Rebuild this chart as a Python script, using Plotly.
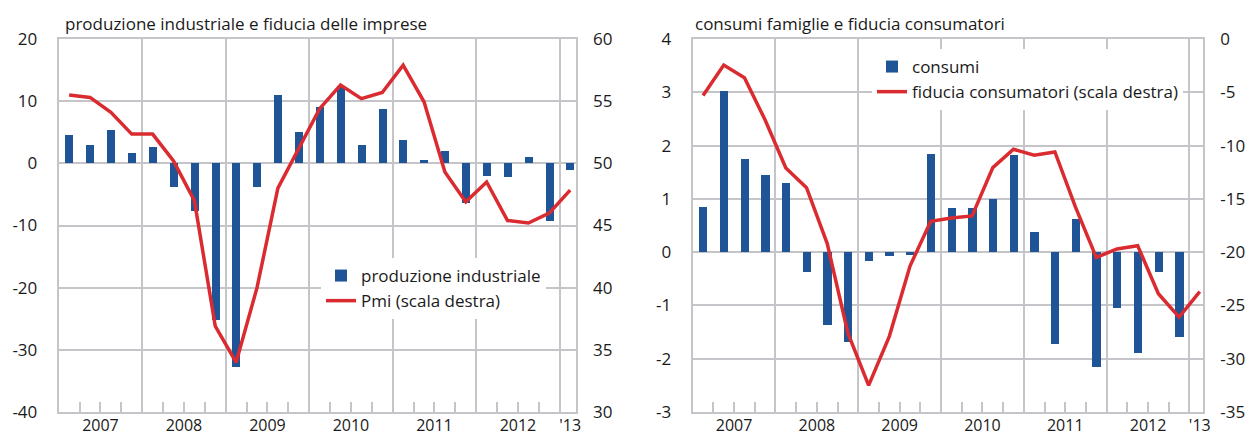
import plotly.graph_objects as go

# ---------------- data ----------------
quarters = [f"{y} T{q}" for y in range(2007, 2013) for q in range(1, 5)] + ["2013 T1"]
year_labels = ["2007", "2008", "2009", "2010", "2011", "2012", "'13"]

prod_ind = [4.6, 2.9, 5.4, 1.6, 2.6, -3.8, -7.7, -25.2, -32.8, -3.8, 11.0, 5.0,
            9.0, 12.5, 2.9, 8.8, 3.8, 0.5, 2.0, -6.4, -2.1, -2.2, 1.0, -9.2, -1.1]
pmi = [55.5, 55.3, 54.1, 52.35, 52.35, 50.2, 47.0, 36.9, 34.0, 40.0, 48.0, 51.2,
       54.4, 56.3, 55.2, 55.7, 57.9, 54.95, 49.3, 46.9, 48.5, 45.4, 45.2, 46.0, 47.85]

consumi = [0.85, 3.03, 1.75, 1.44, 1.29, -0.37, -1.37, -1.69, -0.165, -0.065, -0.06, 1.84,
           0.82, 0.82, 0.99, 1.83, 0.385, -1.73, 0.62, -2.15, -1.05, -1.89, -0.37, -1.59, None]
fiducia = [-5.3, -2.44, -3.63, -7.6, -12.1, -13.95, -19.2, -27.6, -32.5, -27.9, -21.3, -17.1,
           -16.8, -16.6, -12.07, -10.35, -10.9, -10.6, -15.8, -20.5, -19.7, -19.4, -23.9, -26.1, -23.7]

left_ticks = [-40, -30, -20, -10, 0, 10, 20]
left_ticks_r = [30, 35, 40, 45, 50, 55, 60]
right_ticks = [-3, -2, -1, 0, 1, 2, 3, 4]
right_ticks_r = [-35, -30, -25, -20, -15, -10, -5, 0]

# ---------------- style ----------------
W, H = 1254, 439
BLUE = "#1f5597"
RED = "#da2c30"
GRID = "#c4c4c9"
TXT = "#1a1a1a"
FONT = "Open Sans"

x = list(range(len(quarters)))
n_years = len(year_labels)
year_bounds = [4 * k - 0.5 for k in range(1, n_years)]
quarter_bounds = [i + 0.5 for i in range(len(quarters) - 1) if (i + 1) % 4 != 0]
year_centers = [4 * k + 1.5 for k in range(n_years - 1)] + [len(quarters) - 1]


def fx(p):
    return p / W


def fy(p):
    return 1 - p / H


ydom = [fy(412), fy(39)]

fig = go.Figure()
fig.add_trace(go.Bar(x=x, y=prod_ind, width=0.38, marker_color=BLUE, marker_line_width=0,
                     name="produzione industriale", xaxis="x", yaxis="y", legend="legend"))
fig.add_trace(go.Scatter(x=x, y=pmi, mode="lines", line=dict(color=RED, width=3.5),
                         name="Pmi (scala destra)", xaxis="x", yaxis="y2", legend="legend"))
fig.add_trace(go.Bar(x=x, y=consumi, width=0.4, marker_color=BLUE, marker_line_width=0,
                     name="consumi", xaxis="x2", yaxis="y3", legend="legend2"))
fig.add_trace(go.Scatter(x=x, y=fiducia, mode="lines", line=dict(color=RED, width=3.5),
                         name="fiducia consumatori (scala destra)", xaxis="x2", yaxis="y4",
                         legend="legend2"))
# invisible carriers so the year-label axes are drawn
fig.add_trace(go.Scatter(x=year_centers, y=[None] * n_years, mode="markers", xaxis="x3", yaxis="y",
                         showlegend=False, hoverinfo="skip"))
fig.add_trace(go.Scatter(x=year_centers, y=[None] * n_years, mode="markers", xaxis="x4", yaxis="y3",
                         showlegend=False, hoverinfo="skip"))

tickfont = dict(family=FONT, size=17, color=TXT)


def xmain(dom, rng, anchor):
    return dict(domain=dom, range=rng, anchor=anchor, tickvals=year_bounds, showticklabels=False,
                showgrid=True, gridcolor=GRID, gridwidth=2, ticks="", zeroline=False,
                showline=True, linecolor=GRID, linewidth=2, mirror=True, automargin=False,
                minor=dict(tickvals=quarter_bounds, ticks="inside", ticklen=10, tickwidth=2,
                           tickcolor=GRID, showgrid=False))


def xlabels(over, rng, anchor):
    return dict(overlaying=over, range=rng, anchor=anchor, tickvals=year_centers,
                ticktext=year_labels, showgrid=False, ticks="", zeroline=False, showline=False,
                tickfont=dict(family=FONT, size=16, color=TXT), ticklabelstandoff=2,
                automargin=False)


def yleft(dom, rng, tv, anchor):
    return dict(domain=dom, range=rng, anchor=anchor, tickvals=tv, ticktext=[str(v) for v in tv],
                showgrid=True, gridcolor=GRID, gridwidth=2, zeroline=False, ticks="",
                showline=True, linecolor=GRID, linewidth=2, mirror=True, tickfont=tickfont,
                ticklabelstandoff=16, automargin=False)


def yright(over, rng, tv, anchor):
    return dict(overlaying=over, side="right", range=rng, anchor=anchor, tickvals=tv,
                ticktext=[str(v) for v in tv], showgrid=False, zeroline=False, ticks="",
                showline=False, tickfont=tickfont, ticklabelstandoff=16, automargin=False)


xr1 = [-0.5, 24.28]
xr2 = [-0.5, 24.17]

fig.update_layout(
    width=W, height=H, margin=dict(l=0, r=0, t=0, b=0, autoexpand=False),
    paper_bgcolor="white", plot_bgcolor="white",
    font=dict(family=FONT, size=17, color=TXT),
    bargap=0,
    xaxis=xmain([fx(58.7), fx(576)], xr1, "y"),
    xaxis3=xlabels("x", xr1, "y"),
    yaxis=yleft(ydom, [-40, 20], left_ticks, "x"),
    yaxis2=yright("y", [30, 60], left_ticks_r, "x"),
    xaxis2=xmain([fx(692.7), fx(1203.3)], xr2, "y3"),
    xaxis4=xlabels("x2", xr2, "y3"),
    yaxis3=yleft(ydom, [-3, 4], right_ticks, "x2"),
    yaxis4=yright("y3", [-35, 0], right_ticks_r, "x2"),
    legend=dict(x=fx(321), y=fy(258), xanchor="left", yanchor="top", bgcolor="white",
                font=dict(family=FONT, size=17, color=TXT), borderwidth=0),
    legend2=dict(x=fx(872), y=fy(49), xanchor="left", yanchor="top", bgcolor="white",
                 font=dict(family=FONT, size=17, color=TXT), borderwidth=0),
    shapes=[
        dict(type="rect", xref="paper", yref="paper", x0=fx(300), x1=fx(568), y0=fy(318), y1=fy(258),
             fillcolor="white", line_width=0, layer="below"),
        dict(type="rect", xref="paper", yref="paper", x0=fx(872), x1=fx(1190), y0=fy(106), y1=fy(50),
             fillcolor="white", line_width=0, layer="below"),
    ],
    annotations=[
        dict(text="produzione industriale e fiducia delle imprese", x=fx(63), y=fy(23),
             xref="paper", yref="paper", xanchor="left", yanchor="middle", showarrow=False,
             font=dict(family=FONT, size=17, color=TXT)),
        dict(text="consumi famiglie e fiducia consumatori", x=fx(693), y=fy(23),
             xref="paper", yref="paper", xanchor="left", yanchor="middle", showarrow=False,
             font=dict(family=FONT, size=17, color=TXT)),
    ],
)

fig.write_html("out.html", config={"displayModeBar": False},
               post_script="document.body.style.margin='0';document.body.style.overflow='hidden';")
